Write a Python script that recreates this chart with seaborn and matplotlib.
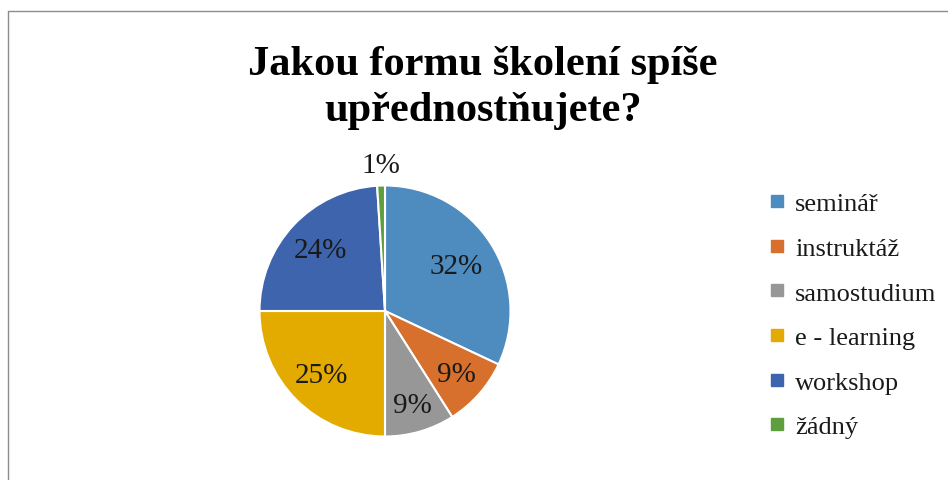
import matplotlib
matplotlib.use("Agg")
import matplotlib.pyplot as plt
import seaborn as sns
import numpy as np
from matplotlib.lines import Line2D

categories = ["seminář", "instruktáž", "samostudium", "e - learning", "workshop", "žádný"]
values = [32, 9, 9, 25, 24, 1]
pct_labels = ["32%", "9%", "9%", "25%", "24%", "1%"]
colors = ["#4E8BBF", "#D6702C", "#979797", "#E3AA00", "#3D64AD", "#5E9E3E"]
title = "Jakou formu školení spíše\nupřednostňujete?"

sns.set_theme(style="white")
plt.rcParams["font.family"] = ["Liberation Serif", "DejaVu Serif"]

W, H = 948, 481
fig = plt.figure(figsize=(W / 100, H / 100), dpi=100)
fig.patch.set_facecolor("white")

cx, cy, r = 385, 312, 125.5
ax = fig.add_axes([(cx - r) / W, (H - cy - r) / H, 2 * r / W, 2 * r / H])
palette = sns.color_palette(colors)
wedges, _ = ax.pie(values, colors=palette, startangle=90, counterclock=False,
                   wedgeprops=dict(edgecolor="white", linewidth=1.5))
ax.set_xlim(-1, 1)
ax.set_ylim(-1, 1)
ax.set_aspect("equal")
ax.axis("off")

dists = [0.67, 0.76, 0.78, 0.72, 0.71, 1.16]
for w, lab, d in zip(wedges, pct_labels, dists):
    ang = np.deg2rad((w.theta1 + w.theta2) / 2)
    ax.text(d * np.cos(ang), d * np.sin(ang), lab, ha="center", va="center",
            fontsize=21, color="#1a1a1a", clip_on=False)

fig.text(483 / W, 1 - 88 / H, title, ha="center", va="center", fontsize=30.5,
         fontweight="bold", linespacing=1.3, color="black")

handles = [Line2D([], [], marker="s", linestyle="none", markersize=8,
                  markerfacecolor=c, markeredgecolor=c) for c in colors]
leg = fig.legend(handles, categories, loc="upper left",
                 bbox_to_anchor=(770 / W, 1 - 193 / H), frameon=False,
                 fontsize=19, handlelength=0.5, handletextpad=0.45,
                 labelspacing=0.8, borderaxespad=0, borderpad=0)
for t in leg.get_texts():
    t.set_color("#1a1a1a")

# chart frame (top and left edges visible)
fig.add_artist(Line2D([8 / W, 1], [1 - 12 / H, 1 - 12 / H], color="#8c8c8c",
                      linewidth=1.0, transform=fig.transFigure))
fig.add_artist(Line2D([8 / W, 8 / W], [0, 1 - 12 / H], color="#8c8c8c",
                      linewidth=1.0, transform=fig.transFigure))

fig.savefig("out.png", dpi=100, facecolor="white")
